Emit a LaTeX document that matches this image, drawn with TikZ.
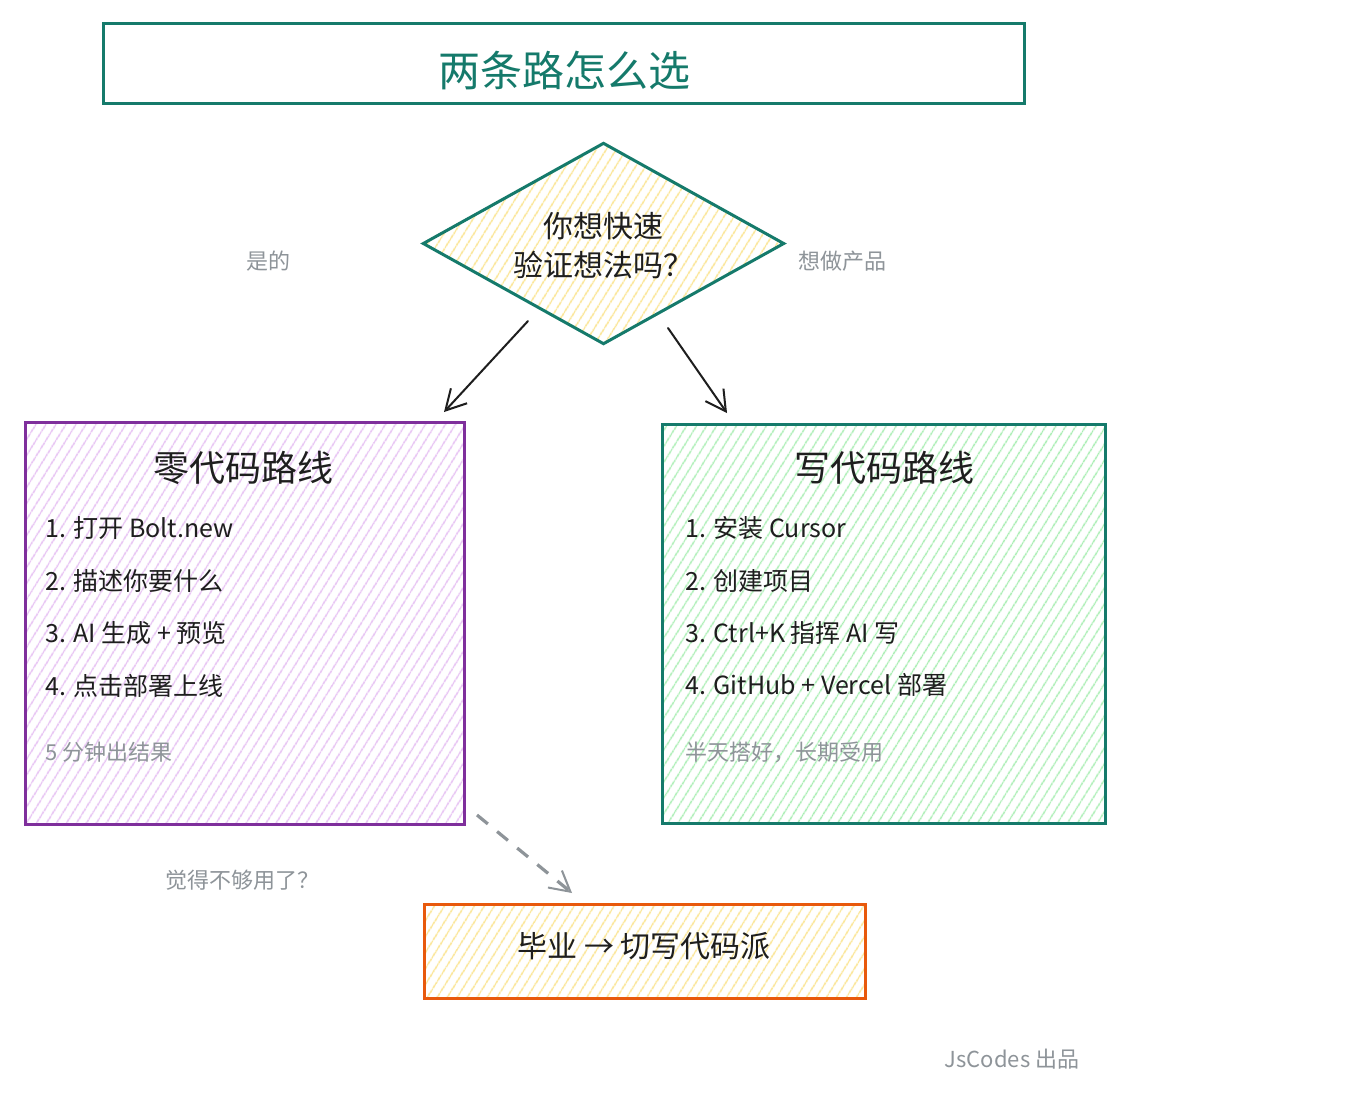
\documentclass[tikz,border=0pt]{standalone}
\usepackage{fontspec}
\setmainfont{Noto Sans CJK SC}
\usetikzlibrary{arrows.meta,patterns.meta,shapes.geometric}
\definecolor{tealc}{HTML}{157A6B}
\definecolor{purplec}{HTML}{7F2F9C}
\definecolor{orangec}{HTML}{E8590C}
\definecolor{inkc}{HTML}{1E1E1E}
\definecolor{grayc}{HTML}{8E9499}
\definecolor{purplefill}{HTML}{E5BDF2}
\definecolor{greenfill}{HTML}{A8EEB2}
\definecolor{yellowfill}{HTML}{FBE38A}
\tikzset{
  boxshape/.style={draw, line width=1.5pt, inner sep=0pt, rectangle},
  hatch/.style={pattern={Lines[angle=58,distance=4pt,line width=0.75pt]}, pattern color=#1},
  bigtxt/.style={text=inkc, font=\fontsize{18}{21}\selectfont, inner sep=0pt},
  itemtxt/.style={text=inkc, font=\fontsize{12.5}{15}\selectfont, anchor=west, inner sep=0pt},
  notetxt/.style={text=grayc, font=\fontsize{11}{13}\selectfont, inner sep=0pt},
  arr/.style={draw=inkc, line width=1pt, line cap=round, -{Straight Barb[length=10pt,width=11pt,line width=1pt]}},
  dasharr/.style={draw=grayc, line width=1.6pt, dash pattern=on 7pt off 6pt, -{Straight Barb[length=10pt,width=11pt,line width=1pt]}}
}
\begin{document}
\begin{tikzpicture}[x=0.5pt,y=-0.5pt]
\path[fill=white] (0,0) rectangle (1368,1100);
\useasboundingbox (0,0) rectangle (1368,1100);

% title
\node[boxshape, draw=tealc, minimum width=460.5pt, minimum height=40pt] (titlebox) at (563.5,63) {};
\node[text=tealc, font=\fontsize{21}{25}\selectfont, inner sep=0pt] (titletxt) at (564,70) {两条路怎么选};

% decision diamond
\node[diamond, draw=tealc, line width=1.5pt, hatch=yellowfill, aspect=1.8, minimum width=180.5pt, minimum height=100.5pt, inner sep=0pt] (dia) at (603.5,243.5) {};
\node[text=inkc, font=\fontsize{15}{19.5}\selectfont, align=center, inner sep=0pt] (diatxt) at (603,246) {你想快速\\验证想法吗？};

\node[notetxt] (yes) at (268,261) {是的};
\node[notetxt] (prod) at (842,261) {想做产品};

% left box
\node[boxshape, draw=purplec, hatch=purplefill, minimum width=219.5pt, minimum height=201pt] (zero) at (244.5,623) {};
\node[bigtxt] (zerot) at (243,468) {零代码路线};
\node[itemtxt] (z1) at (45,528) {1. 打开 Bolt.new};
\node[itemtxt] (z2) at (45,581) {2. 描述你要什么};
\node[itemtxt] (z3) at (45,633) {3. AI 生成 + 预览};
\node[itemtxt] (z4) at (45,686) {4. 点击部署上线};
\node[notetxt, anchor=west] (z5) at (45,752) {5 分钟出结果};

% right box
\node[boxshape, draw=tealc, hatch=greenfill, minimum width=221.5pt, minimum height=199.5pt] (code) at (883.5,623.5) {};
\node[bigtxt] (codet) at (884,468) {写代码路线};
\node[itemtxt] (c1) at (685,528) {1. 安装 Cursor};
\node[itemtxt] (c2) at (685,581) {2. 创建项目};
\node[itemtxt] (c3) at (685,633) {3. Ctrl+K 指挥 AI 写};
\node[itemtxt] (c4) at (685,685) {4. GitHub + Vercel 部署};
\node[notetxt, anchor=west] (c5) at (685,752) {半天搭好，长期受用};

% bottom box
\node[boxshape, draw=orangec, hatch=yellowfill, minimum width=220.5pt, minimum height=47pt] (grad) at (644.5,951) {};
\node[text=inkc, font=\fontsize{15}{18}\selectfont, inner sep=0pt] (gradt) at (644,946) {毕业 → 切写代码派};

\node[notetxt] (enough) at (242,880) {觉得不够用了？};
\node[notetxt] (brand) at (1012,1059) {JsCodes 出品};

% connectors
\coordinate (l1) at (528,321);
\coordinate (l2) at (444,412);
\coordinate (r1) at (668,328);
\coordinate (r2) at (727,413);
\coordinate (d1) at (477,815);
\coordinate (d2) at (572,893);
\draw[arr] (l1) -- (l2);
\draw[arr] (r1) -- (r2);
\draw[dasharr] (d1) -- (d2);
\end{tikzpicture}
\end{document}
